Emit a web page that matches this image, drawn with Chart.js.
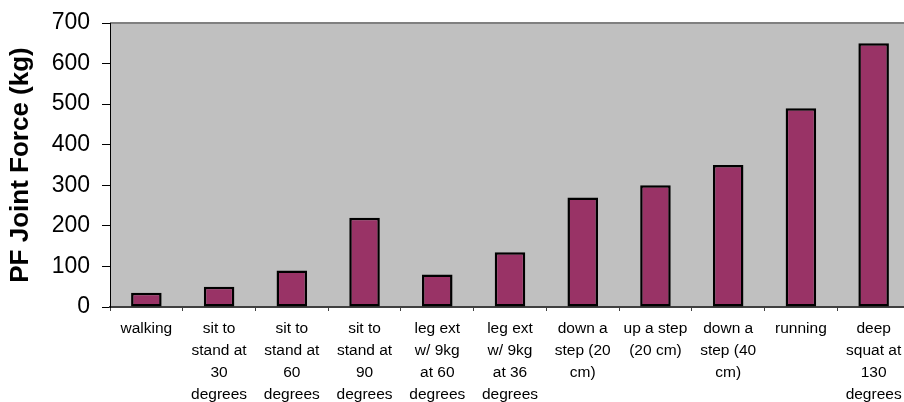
<!DOCTYPE html>
<html>
<head>
<meta charset="utf-8">
<script src="https://cdn.jsdelivr.net/npm/chart.js@4/dist/chart.umd.min.js"></script>
<style>
  html, body { margin: 0; padding: 0; background: #ffffff; overflow: hidden; }
  canvas { display: block; }
</style>
</head>
<body>
<canvas id="c" width="920" height="402"></canvas>
<script>
const categories = [
  ["walking"],
  ["sit to", "stand at", "30", "degrees"],
  ["sit to", "stand at", "60", "degrees"],
  ["sit to", "stand at", "90", "degrees"],
  ["leg ext", "w/ 9kg", "at 60", "degrees"],
  ["leg ext", "w/ 9kg", "at 36", "degrees"],
  ["down a", "step (20", "cm)"],
  ["up a step", "(20 cm)"],
  ["down a", "step (40", "cm)"],
  ["running"],
  ["deep", "squat at", "130", "degrees"]
];
const pfJointForce = [35, 50, 90, 220, 80, 135, 270, 300, 350, 490, 650];
const yTicks = [0, 100, 200, 300, 400, 500, 600, 700];
const yTitle = "PF Joint Force (kg)";

const plotBg = {
  id: 'plotBg',
  beforeDraw(chart) {
    const {ctx, chartArea: a} = chart;
    ctx.save();
    ctx.fillStyle = '#C0C0C0';
    ctx.fillRect(a.left, a.top, a.right - a.left, a.bottom - a.top);
    ctx.strokeStyle = '#808080';
    ctx.lineWidth = 2;
    ctx.beginPath();
    ctx.moveTo(a.left, a.top);
    ctx.lineTo(a.right + 20, a.top);
    ctx.stroke();
    ctx.restore();
  }
};

new Chart(document.getElementById('c'), {
  type: 'bar',
  data: {
    labels: categories,
    datasets: [{
      data: pfJointForce,
      backgroundColor: '#993366',
      borderColor: '#000000',
      borderWidth: 2.5,
      borderSkipped: false,
      categoryPercentage: 1.0,
      barPercentage: 0.42
    }]
  },
  options: {
    responsive: false,
    animation: false,
    devicePixelRatio: 1,
    layout: { padding: { top: 23, right: 10, left: 0, bottom: 0 } },
    plugins: {
      legend: { display: false },
      tooltip: { enabled: false }
    },
    scales: {
      x: {
        grid: {
          offset: true,
          drawOnChartArea: false,
          drawTicks: true,
          tickLength: 4,
          tickColor: '#404040'
        },
        border: { display: true, color: '#404040', width: 2 },
        ticks: {
          autoSkip: false,
          maxRotation: 0,
          minRotation: 0,
          padding: 7,
          color: '#000000',
          font: { family: '"Liberation Sans", Arial, sans-serif', size: 15.5, lineHeight: '22px' }
        },
        afterFit(scale) { scale.height = 95; }
      },
      y: {
        min: 0,
        max: 700,
        afterBuildTicks(scale) { scale.ticks = yTicks.map(v => ({ value: v })); },
        grid: {
          drawOnChartArea: false,
          drawTicks: true,
          tickLength: 8,
          tickColor: '#000000'
        },
        border: { display: true, color: '#000000', width: 1 },
        ticks: {
          padding: 12,
          color: '#000000',
          font: { family: '"Liberation Sans", Arial, sans-serif', size: 23 }
        },
        title: {
          display: true,
          text: yTitle,
          color: '#000000',
          padding: { top: 5, bottom: 0 },
          font: { family: '"Liberation Sans", Arial, sans-serif', size: 26, weight: 'bold' }
        },
        afterFit(scale) {
          scale.width = 110;
          scale.paddingTop = 0;
          scale.paddingBottom = 0;
        }
      }
    }
  },
  plugins: [plotBg]
});
</script>
</body>
</html>
